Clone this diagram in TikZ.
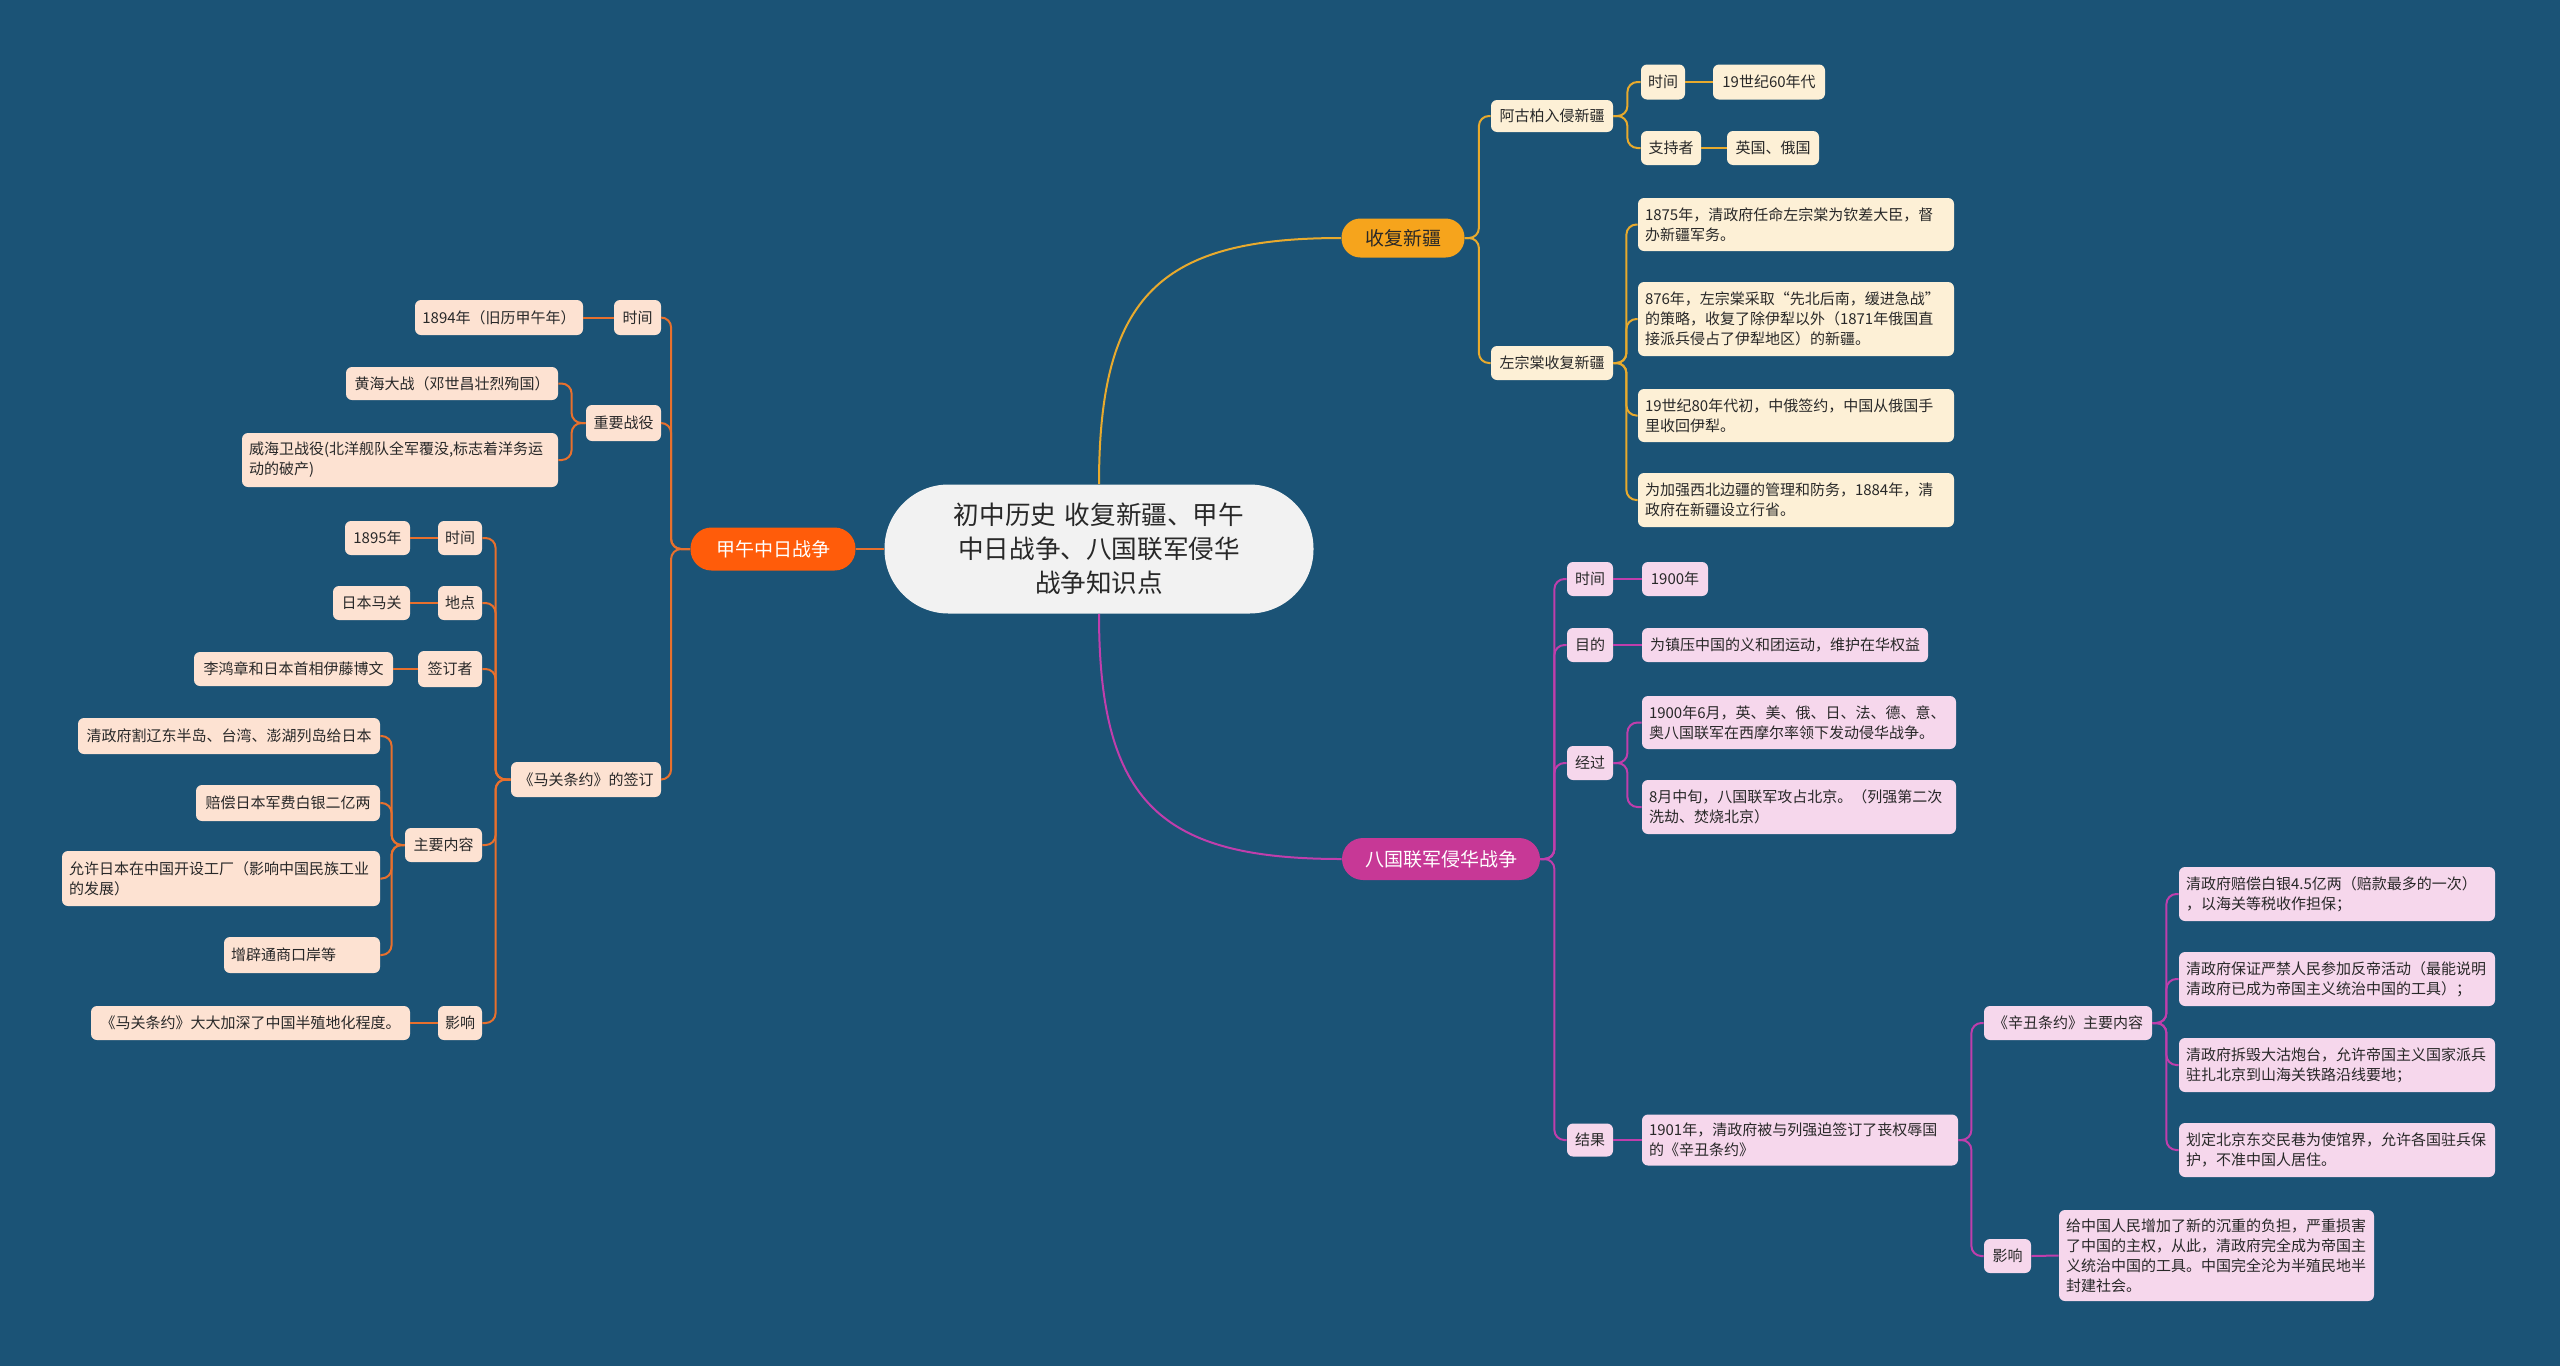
\documentclass[tikz,border=0pt]{standalone}
\usepackage{fontspec}
\setmainfont{Noto Sans CJK SC}
\definecolor{bgc}{RGB}{27,83,118}
\definecolor{rootfill}{RGB}{242,242,242}
\definecolor{yfill}{RGB}{246,164,28}
\definecolor{yline}{RGB}{232,170,45}
\definecolor{yleaf}{RGB}{253,240,214}
\definecolor{ofill}{RGB}{255,92,10}
\definecolor{oline}{RGB}{232,112,45}
\definecolor{oleaf}{RGB}{253,226,210}
\definecolor{mfill}{RGB}{199,56,150}
\definecolor{mline}{RGB}{192,62,172}
\definecolor{mleaf}{RGB}{246,215,236}
\definecolor{txt}{RGB}{40,40,40}
\begin{document}
\begin{tikzpicture}[x=0.5pt,y=-0.5pt,
  box/.style={rounded corners=3pt, text=txt, font=\fontsize{7.5}{10}\selectfont, inner xsep=3.5pt, inner ysep=2pt, anchor=center},
  yb/.style={box, fill=yleaf},
  ob/.style={box, fill=oleaf},
  mb/.style={box, fill=mleaf},
  ml/.style={align=left, text width=#1},
  mainnode/.style={rounded corners=9.5pt, font=\fontsize{9.5}{11}\selectfont, inner sep=2pt, anchor=center},
  yl/.style={draw=yline, line width=1pt, rounded corners=5pt},
  ol/.style={draw=oline, line width=1pt, rounded corners=5pt},
  mlc/.style={draw=mline, line width=1pt, rounded corners=5pt}
]
\fill[bgc] (0,0) rectangle (2560,1366);
\useasboundingbox (0,0) rectangle (2560,1366);

% root and main branches
\node[fill=rootfill, rounded corners=32pt, minimum width=214.5pt, minimum height=64.5pt, text width=185pt, align=center, text=txt, font=\fontsize{12.8}{17}\selectfont] (root) at (1099,549) {初中历史 收复新疆、甲午\\中日战争、八国联军侵华\\战争知识点};
\node[mainnode, fill=yfill, text=txt, minimum width=61.5pt, minimum height=19.5pt] (sx) at (1403,238) {收复新疆};
\node[mainnode, fill=ofill, text=white, minimum width=82.5pt, minimum height=21.5pt, rounded corners=10.5pt] (jw) at (773,549) {甲午中日战争};
\node[mainnode, fill=mfill, text=white, minimum width=99pt, minimum height=21pt, rounded corners=10.5pt] (bg) at (1441,859) {八国联军侵华战争};

\draw[yline, line width=1pt] (root.north) .. controls +(0,-190) and +(-180,0) .. (sx.west);
\draw[mline, line width=1pt] (root.south) .. controls +(0,190) and +(-180,0) .. (bg.west);
\draw[oline, line width=1pt] (root.west) -- (jw.east);

% yellow branch
\node[yb, minimum width=61pt, minimum height=16pt] (a) at (1552,116) {阿古柏入侵新疆};
\node[yb, minimum width=22pt, minimum height=17.5pt] (a1) at (1663,82) {时间};
\node[yb, minimum width=56pt, minimum height=17.5pt] (a1v) at (1769,82) {19世纪60年代};
\node[yb, minimum width=30pt, minimum height=17pt] (a2) at (1671,148) {支持者};
\node[yb, minimum width=46pt, minimum height=17pt] (a2v) at (1773,148) {英国、俄国};
\node[yb, minimum width=61pt, minimum height=17pt] (z) at (1552,363) {左宗棠收复新疆};
\node[yb, ml=151pt, minimum width=158pt, minimum height=26.5pt] (z1) at (1796,224.5) {1875年，清政府任命左宗棠为钦差大臣，督\\办新疆军务。};
\node[yb, ml=151pt, minimum width=158pt, minimum height=37pt] (z2) at (1796,319) {876年，左宗棠采取“先北后南，缓进急战”\\的策略，收复了除伊犁以外（1871年俄国直\\接派兵侵占了伊犁地区）的新疆。};
\node[yb, ml=151pt, minimum width=158pt, minimum height=26.5pt] (z3) at (1796,415.5) {19世纪80年代初，中俄签约，中国从俄国手\\里收回伊犁。};
\node[yb, ml=151pt, minimum width=158pt, minimum height=27pt] (z4) at (1796,500) {为加强西北边疆的管理和防务，1884年，清\\政府在新疆设立行省。};

\draw[yl] (sx.east) -- ++(14,0) |- (a.west);
\draw[yl] (sx.east) -- ++(14,0) |- (z.west);
\draw[yl] (a.east) -- ++(14,0) |- (a1.west);
\draw[yl] (a.east) -- ++(14,0) |- (a2.west);
\draw[yl] (a1.east) -- (a1v.west);
\draw[yl] (a2.east) -- (a2v.west);
\draw[yl] (z.east) -- ++(13,0) |- (z1.west);
\draw[yl] (z.east) -- ++(13,0) |- (z2.west);
\draw[yl] (z.east) -- ++(13,0) |- (z3.west);
\draw[yl] (z.east) -- ++(13,0) |- (z4.west);

% magenta branch
\node[mb, minimum width=23pt, minimum height=17pt] (b1) at (1590,579) {时间};
\node[mb, minimum width=33pt, minimum height=17pt] (b1v) at (1675,579) {1900年};
\node[mb, minimum width=23pt, minimum height=17pt] (b2) at (1590,645) {目的};
\node[mb, minimum width=143pt, minimum height=17pt] (b2v) at (1785,645) {为镇压中国的义和团运动，维护在华权益};
\node[mb, minimum width=23pt, minimum height=17pt] (b3) at (1590,763) {经过};
\node[mb, ml=150pt, minimum width=157pt, minimum height=26.5pt] (b3a) at (1799,722.5) {1900年6月，英、美、俄、日、法、德、意、\\奥八国联军在西摩尔率领下发动侵华战争。};
\node[mb, ml=150pt, minimum width=157pt, minimum height=27pt] (b3b) at (1799,807) {8月中旬，八国联军攻占北京。（列强第二次\\洗劫、焚烧北京）};
\node[mb, minimum width=23pt, minimum height=16.5pt] (b4) at (1590,1140) {结果};
\node[mb, ml=151pt, minimum width=158pt, minimum height=25.5pt] (b4a) at (1800,1140) {1901年，清政府被与列强迫签订了丧权辱国\\的《辛丑条约》};
\node[mb, minimum width=84pt, minimum height=17pt] (c) at (2068,1023) {《辛丑条约》主要内容};
\node[mb, ml=151pt, minimum width=158pt, minimum height=27pt] (c1) at (2337,894) {清政府赔偿白银4.5亿两（赔款最多的一次）\\，以海关等税收作担保；};
\node[mb, ml=151pt, minimum width=158pt, minimum height=27pt] (c2) at (2337,979) {清政府保证严禁人民参加反帝活动（最能说明\\清政府已成为帝国主义统治中国的工具）；};
\node[mb, ml=151pt, minimum width=158pt, minimum height=27pt] (c3) at (2337,1065) {清政府拆毁大沽炮台，允许帝国主义国家派兵\\驻扎北京到山海关铁路沿线要地；};
\node[mb, ml=151pt, minimum width=158pt, minimum height=27pt] (c4) at (2337,1150) {划定北京东交民巷为使馆界，允许各国驻兵保\\护，不准中国人居住。};
\node[mb, minimum width=23.5pt, minimum height=17pt] (d) at (2007.5,1256) {影响};
\node[mb, ml=150.5pt, minimum width=157.5pt, minimum height=45.5pt] (d1) at (2216.5,1255.5) {给中国人民增加了新的沉重的负担，严重损害\\了中国的主权，从此，清政府完全成为帝国主\\义统治中国的工具。中国完全沦为半殖民地半\\封建社会。};

\draw[mlc] (bg.east) -- ++(14,0) |- (b1.west);
\draw[mlc] (bg.east) -- ++(14,0) |- (b2.west);
\draw[mlc] (bg.east) -- ++(14,0) |- (b3.west);
\draw[mlc] (bg.east) -- ++(14,0) |- (b4.west);
\draw[mlc] (b1.east) -- (b1v.west);
\draw[mlc] (b2.east) -- (b2v.west);
\draw[mlc] (b3.east) -- ++(14,0) |- (b3a.west);
\draw[mlc] (b3.east) -- ++(14,0) |- (b3b.west);
\draw[mlc] (b4.east) -- (b4a.west);
\draw[mlc] (b4a.east) -- ++(13,0) |- (c.west);
\draw[mlc] (b4a.east) -- ++(13,0) |- (d.west);
\draw[mlc] (c.east) -- ++(14,0) |- (c1.west);
\draw[mlc] (c.east) -- ++(14,0) |- (c2.west);
\draw[mlc] (c.east) -- ++(14,0) |- (c3.west);
\draw[mlc] (c.east) -- ++(14,0) |- (c4.west);
\draw[mlc] (d.east) -- (d1.west);

% orange branch
\node[ob, minimum width=23.5pt, minimum height=17.5pt] (l1) at (637.5,317.5) {时间};
\node[ob, minimum width=84pt, minimum height=17.5pt] (l1v) at (499,317.5) {1894年（旧历甲午年）};
\node[ob, minimum width=37.5pt, minimum height=18pt] (l2) at (623.5,423) {重要战役};
\node[ob, minimum width=106pt, minimum height=16.5pt] (l2a) at (452,383.5) {黄海大战（邓世昌壮烈殉国）};
\node[ob, ml=151pt, minimum width=158pt, minimum height=27pt] (l2b) at (400,460) {威海卫战役(北洋舰队全军覆没,标志着洋务运\\动的破产)};
\node[ob, minimum width=75pt, minimum height=17.5pt] (l3) at (586,779.5) {《马关条约》的签订};
\node[ob, minimum width=22pt, minimum height=17pt] (m1) at (460,538) {时间};
\node[ob, minimum width=32.5pt, minimum height=17pt] (m1v) at (377.5,538) {1895年};
\node[ob, minimum width=22pt, minimum height=17pt] (m2) at (460,603) {地点};
\node[ob, minimum width=38.5pt, minimum height=17pt] (m2v) at (371.5,603) {日本马关};
\node[ob, minimum width=32pt, minimum height=18pt] (m3) at (450,669) {签订者};
\node[ob, minimum width=99.5pt, minimum height=17pt] (m3v) at (293.5,669) {李鸿章和日本首相伊藤博文};
\node[ob, minimum width=38.5pt, minimum height=17pt] (m4) at (443.5,845) {主要内容};
\node[ob, minimum width=151pt, minimum height=18pt] (m4a) at (229,736) {清政府割辽东半岛、台湾、澎湖列岛给日本};
\node[ob, minimum width=92pt, minimum height=18pt] (m4b) at (288,803) {赔偿日本军费白银二亿两};
\node[ob, ml=152pt, minimum width=159pt, minimum height=27.5pt] (m4c) at (221,878.5) {允许日本在中国开设工厂（影响中国民族工业\\的发展）};
\node[ob, ml=71pt, minimum width=78pt, minimum height=18pt] (m4d) at (302,955) {增辟通商口岸等};
\node[ob, minimum width=22pt, minimum height=17pt] (m5) at (460,1023) {影响};
\node[ob, minimum width=159.5pt, minimum height=17pt] (m5v) at (250.5,1023) {《马关条约》大大加深了中国半殖地化程度。};

\draw[ol] (jw.west) -- ++(-19,0) |- (l1.east);
\draw[ol] (jw.west) -- ++(-19,0) |- (l2.east);
\draw[ol] (jw.west) -- ++(-19,0) |- (l3.east);
\draw[ol] (l1.west) -- (l1v.east);
\draw[ol] (l2.west) -- ++(-14,0) |- (l2a.east);
\draw[ol] (l2.west) -- ++(-14,0) |- (l2b.east);
\draw[ol] (l3.west) -- ++(-15,0) |- (m1.east);
\draw[ol] (l3.west) -- ++(-15,0) |- (m2.east);
\draw[ol] (l3.west) -- ++(-15,0) |- (m3.east);
\draw[ol] (l3.west) -- ++(-15,0) |- (m4.east);
\draw[ol] (l3.west) -- ++(-15,0) |- (m5.east);
\draw[ol] (m1.west) -- (m1v.east);
\draw[ol] (m2.west) -- (m2v.east);
\draw[ol] (m3.west) -- (m3v.east);
\draw[ol] (m5.west) -- (m5v.east);
\draw[ol] (m4.west) -- ++(-13,0) |- (m4a.east);
\draw[ol] (m4.west) -- ++(-13,0) |- (m4b.east);
\draw[ol] (m4.west) -- ++(-13,0) |- (m4c.east);
\draw[ol] (m4.west) -- ++(-13,0) |- (m4d.east);
\end{tikzpicture}
\end{document}
